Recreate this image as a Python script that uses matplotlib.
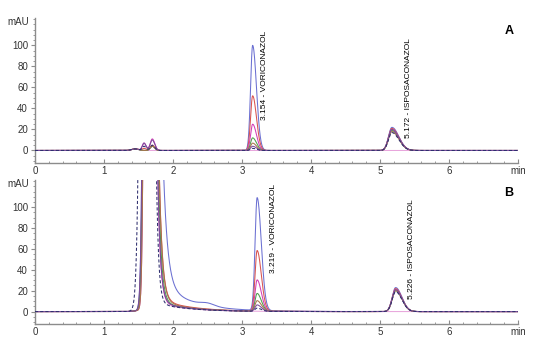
import numpy as np
import matplotlib
matplotlib.use('Agg')
import matplotlib.pyplot as plt
from matplotlib.ticker import MultipleLocator

plt.rcParams.update({'font.family': ['Liberation Sans', 'DejaVu Sans'], 'font.size': 7})

# Traces (one per injection), largest concentration first, last one is the blank
trace_colors = ['#6b70d2', '#d9534f', '#d43cb6', '#4e9d4e', '#a8744c', '#7b4c9c', '#2e2e6e', '#e8a6dc']
trace_dashed = [False, False, False, False, False, False, True, False]

# Panel A: retention times (min) and peak heights (mAU)
vori_time_a = 3.154
ispo_time_a = 5.172
vori_height_a = [100, 52, 25, 12, 7, 4, 2, 0]
ispo_height_a = [22, 21, 20, 19, 18, 20, 17, 0]
early1_height_a = [0, 2, 7, 0, 0, 7, 4, 0]   # peak at 1.58 min
early2_height_a = [4, 5, 11, 4, 4, 10, 5, 0]  # peak at 1.70 min

# Panel B: retention times (min) and peak heights (mAU)
vori_time_b = 3.219
ispo_time_b = 5.226
vori_height_b = [108, 58, 30, 17, 10, 6, 3, 0]
ispo_height_b = [23, 22, 21, 20, 20, 21, 19, 0]
# solvent front: time where each trace crosses the top of the axis (left / right)
solvent_left_b = [1.545, 1.55, 1.56, 1.55, 1.56, 1.545, 1.49, 1.55]
solvent_right_b = [1.855, 1.80, 1.78, 1.79, 1.80, 1.78, 1.76, 1.78]
solvent_tail_b = [38, 16, 12, 12, 14, 12, 10, 10]

t = np.linspace(0, 7, 3000)


def peak(c, h, sl, sr):
    s = np.where(t < c, sl, sr)
    return h * np.exp(-0.5 * ((t - c) / s) ** 2)


def solvent(tl, tr, tail, c=1.66, h=3000.0, top=125.0):
    k = np.log(h / top)
    sl = (c - tl) / np.sqrt(2 * k)
    tau = (tr - c) / k
    left = h * np.exp(-0.5 * ((t - c) / sl) ** 2) + 3 * np.exp(-0.5 * ((t - c) / 0.12) ** 2)
    right = h * np.exp(-(t - c) / tau) + tail * np.exp(-(t - c) / 0.45)
    return np.where(t < c, left, right)


def style_axis(ax, letter):
    ax.set_xlim(0, 7)
    ax.set_ylim(-12, 126)
    for side in ['top', 'right']:
        ax.spines[side].set_visible(False)
    for side in ['left', 'bottom']:
        ax.spines[side].set_color('#8c8c8c')
        ax.spines[side].set_linewidth(1.0)
    ax.set_xticks(range(8))
    ax.set_xticklabels(['0', '1', '2', '3', '4', '5', '6', 'min'])
    ax.set_yticks(range(0, 101, 20))
    ax.xaxis.set_minor_locator(MultipleLocator(0.2))
    ax.yaxis.set_minor_locator(MultipleLocator(5))
    ax.tick_params(axis='x', which='both', direction='in', colors='#8c8c8c', labelcolor='#333333', pad=2)
    ax.tick_params(axis='x', which='major', length=3)
    ax.tick_params(axis='x', which='minor', length=1.5)
    ax.tick_params(axis='y', which='both', direction='out', colors='#8c8c8c', labelcolor='#333333', pad=2)
    ax.tick_params(axis='y', which='major', length=3)
    ax.tick_params(axis='y', which='minor', length=1.5)
    ax.text(-0.012, 0.975, 'mAU', transform=ax.transAxes, ha='right', va='center', color='#333333')
    ax.text(6.87, 114, letter, fontsize=9, fontweight='bold', ha='center', va='center')


fig = plt.figure(figsize=(5.38, 3.47), dpi=100)
ax_a = fig.add_axes([0.065, 0.530, 0.898, 0.418])
ax_b = fig.add_axes([0.065, 0.066, 0.898, 0.415])

for i, color in enumerate(trace_colors):
    ls = (0, (3, 2)) if trace_dashed[i] else '-'
    z = 3 if trace_dashed[i] else 2
    if i == len(trace_colors) - 1:
        z = 1  # blank goes underneath
    ya = (peak(vori_time_a, vori_height_a[i], 0.03, 0.055)
          + peak(ispo_time_a, ispo_height_a[i], 0.05, 0.1)
          + peak(1.58, early1_height_a[i], 0.025, 0.03)
          + peak(1.70, early2_height_a[i], 0.03, 0.035)
          + peak(1.45, 1.5, 0.05, 0.05))
    ax_a.plot(t, ya, color=color, lw=0.75, ls=ls, zorder=z)

    yb = (solvent(solvent_left_b[i], solvent_right_b[i], solvent_tail_b[i])
          + peak(vori_time_b, vori_height_b[i], 0.03, 0.06)
          + peak(ispo_time_b, ispo_height_b[i], 0.05, 0.09))
    if i == 0:
        yb = yb + peak(2.5, 2.5, 0.1, 0.1)
    ax_b.plot(t, yb, color=color, lw=0.75, ls=ls, zorder=z)

style_axis(ax_a, 'A')
style_axis(ax_b, 'B')

ax_a.text(3.33, 29, '3.154 - VORICONAZOL', rotation=90, ha='center', va='bottom', fontsize=6)
ax_a.text(5.41, 12, '5.172 - ISPOSACONAZOL', rotation=90, ha='center', va='bottom', fontsize=6)
ax_b.text(3.46, 37, '3.219 - VORICONAZOL', rotation=90, ha='center', va='bottom', fontsize=6)
ax_b.text(5.45, 12, '5.226 - ISPOSACONAZOL', rotation=90, ha='center', va='bottom', fontsize=6)

fig.savefig('out.png', dpi=100)
